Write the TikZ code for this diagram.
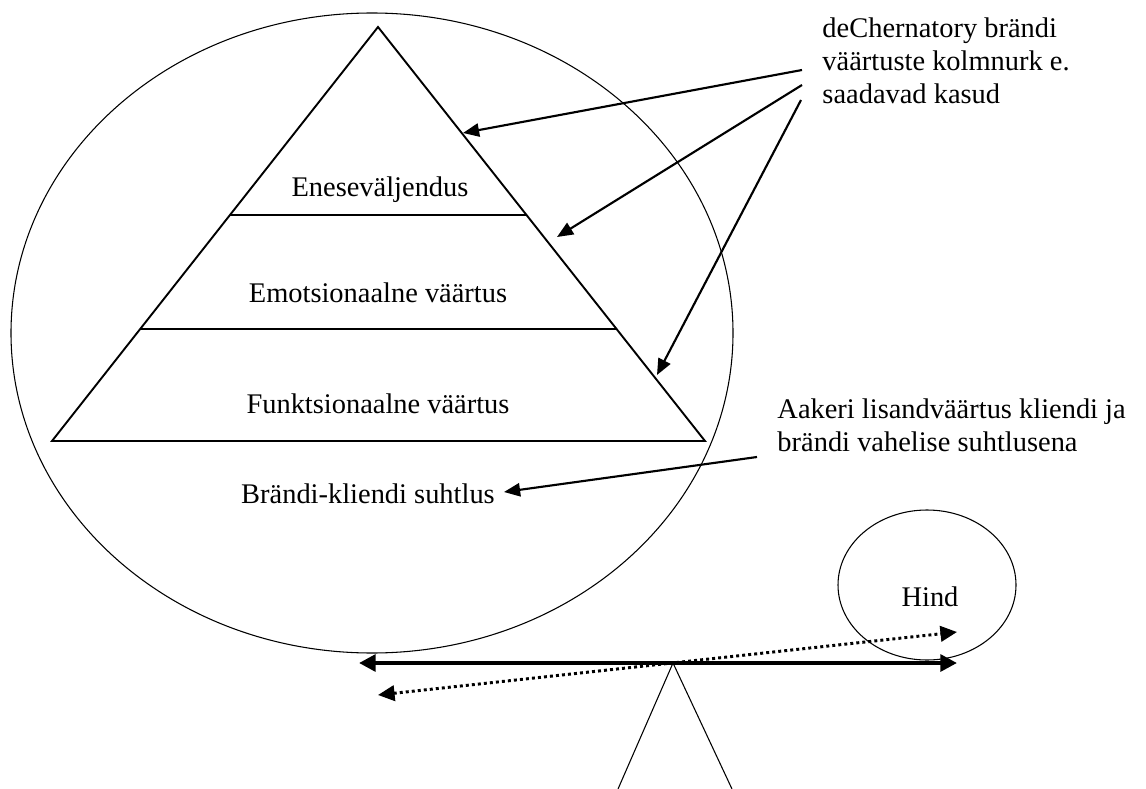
\documentclass[tikz,border=0pt]{standalone}
\usepackage{fontspec}
\setmainfont{Liberation Serif}
\usetikzlibrary{arrows.meta}
\tikzset{
  every node/.style={font=\fontsize{12pt}{13.9pt}\selectfont, inner sep=0pt},
  ring/.style={draw, line width=0.45pt},
  pyr/.style={draw, line width=0.8pt, line join=miter},
  lbl/.style={anchor=base, align=center},
  note/.style={anchor=north west, align=left},
  arr/.style={-{Triangle[length=6.8pt,width=5.6pt]}, line width=0.9pt},
  beam/.style={{Triangle[length=7pt,width=7pt]}-{Triangle[length=7pt,width=7pt]}, line width=1.7pt},
  dotarr/.style={{Triangle[length=7pt,width=6.5pt]}-{Triangle[length=7pt,width=6.5pt]}, line width=1.25pt, dash pattern=on 1.25pt off 1.3pt},
}
\begin{document}
\begin{tikzpicture}[x=0.422pt,y=-0.422pt]
  \useasboundingbox (0,0) rectangle (1146,789);

  % brand circle and value pyramid
  \draw[ring] (372,333) ellipse [x radius=361, y radius=320];
  \coordinate (apex) at (378,27);
  \coordinate (bl) at (52,441);
  \coordinate (br) at (705,441);
  \draw[pyr] (apex) -- (bl) -- (br) -- cycle;
  \draw[pyr] (230,215) -- (526,215);
  \draw[pyr] (140,329) -- (616,329);
  \node[lbl] (ene) at (380,197) {Eneseväljendus};
  \node[lbl] (emo) at (378,302) {Emotsionaalne väärtus};
  \node[lbl] (fun) at (378,413) {Funktsionaalne väärtus};
  \node[lbl] (suh) at (368,503) {Brändi-kliendi suhtlus};

  % notes on the right
  \node[note] (dech) at (822,17) {deChernatory brändi\\väärtuste kolmnurk e.\\saadavad kasud};
  \node[note] (aak) at (777,398) {Aakeri lisandväärtus kliendi ja\\brändi vahelise suhtlusena};
  \coordinate (d1) at (802,70);
  \coordinate (d2) at (802,85);
  \coordinate (d3) at (801,100);
  \coordinate (t1) at (463,133);
  \coordinate (t2) at (557,237);
  \coordinate (t3) at (657,375);
  \coordinate (a1) at (757,457);
  \coordinate (a2) at (504,492);
  \draw[arr] (d1) -- (t1);
  \draw[arr] (d2) -- (t2);
  \draw[arr] (d3) -- (t3);
  \draw[arr] (a1) -- (a2);

  % price and the balance
  \draw[ring] (927,585) ellipse [x radius=89, y radius=75];
  \node[lbl] (hind) at (930,606) {Hind};
  \coordinate (piv) at (673,663);
  \coordinate (bw) at (359,663);
  \coordinate (be) at (957,663);
  \coordinate (dw) at (378,695);
  \coordinate (de) at (957,632);
  \draw[ring] (618,789) -- (piv) -- (732,789);
  \draw[beam] (bw) -- (be);
  \draw[dotarr] (dw) -- (de);
\end{tikzpicture}
\end{document}
